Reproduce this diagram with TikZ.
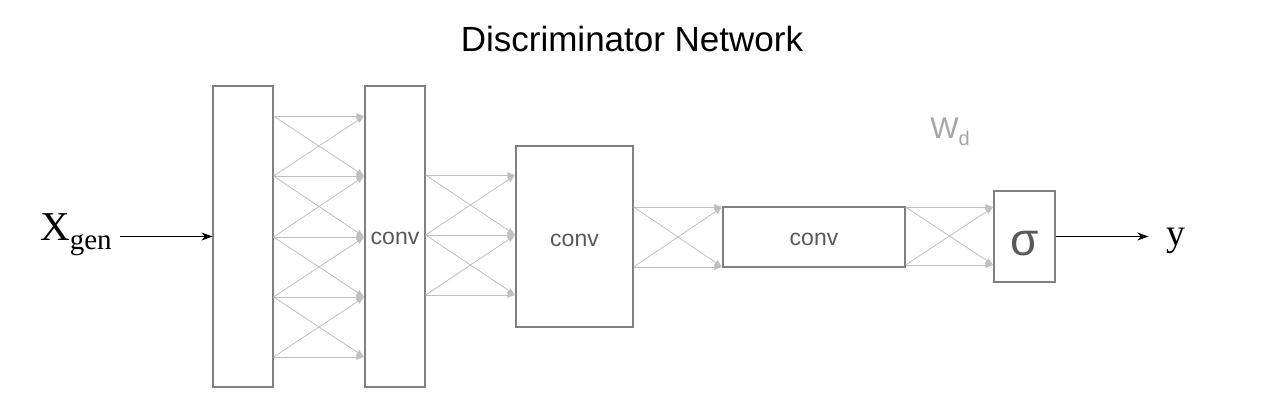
\documentclass[tikz,border=0pt]{standalone}
\usepackage{fontspec}
\setmainfont{Liberation Serif}
\newfontfamily\labelfont{Liberation Sans}
\usetikzlibrary{positioning, arrows.meta, calc}

\begin{document}
\begin{tikzpicture}[x=1pt, y=-1pt,
  layer/.style={draw=black!50, line width=1.1pt, fill=white, inner sep=0pt,
                text=black!65, font=\labelfont\fontsize{23}{26}\selectfont,
                text depth=0pt, text height=16pt},
  link/.style={draw=black!25, line width=0.8pt, -{Latex[length=8pt,width=6pt]}},
  io/.style={line width=1.1pt, -{Stealth[length=11pt,width=8pt]}}]
  \useasboundingbox (0,0) rectangle (1263,408);
  % titolo e pesi
  \node[font=\labelfont\fontsize{35}{40}\selectfont] (title) at (632,39) {Discriminator Network};
  \node[text=black!35, font=\labelfont\fontsize{30}{32}\selectfont] (wd) at (950,132)
       {W\raisebox{-7pt}{\fontsize{20}{20}\selectfont d}};
  % strati della rete
  \node[layer, minimum width=60, minimum height=301] (l0) at (243,236.5) {};
  \node[layer, minimum width=60, minimum height=301] (l1) at (395,236.5) {conv};
  \node[layer, minimum width=117, minimum height=181, text height=20pt] (l2) at (574.5,236.5) {conv};
  \node[layer, minimum width=182, minimum height=60] (l3) at (814,237) {conv};
  \node[layer, minimum width=61, minimum height=91, text height=38pt,
        font=\labelfont\fontsize{46}{50}\selectfont] (l4) at (1024.5,236.5) {σ};
  % ingresso e uscita
  \node[font=\fontsize{41}{44}\selectfont, inner sep=2pt] (xin) at (76,235)
       {X\raisebox{-9pt}{\fontsize{29}{30}\selectfont gen}};
  \node[font=\fontsize{38}{40}\selectfont, inner sep=2pt] (yout) at (1176,241) {y};
  \draw[io, shorten <=6pt] (xin.east |- l0.west) -- (l0.west);
  \draw[io, shorten >=16pt] (l4.east) -- (yout.west |- l4.east);
  % connessioni l0 -> l1
  \foreach \i/\y in {1/116, 2/176, 3/237, 4/297, 5/357}{
    \coordinate (l0o\i) at (l0.east |- 0,\y);
    \coordinate (l1i\i) at (l1.west |- 0,\y);
    \draw[link] (l0o\i) -- (l1i\i);
  }
  \foreach \i/\j in {1/2, 2/3, 3/4, 4/5}{
    \draw[link] (l0o\i) -- (l1i\j);
    \draw[link] (l0o\j) -- (l1i\i);
  }
  % connessioni l1 -> l2
  \foreach \i/\y in {1/175, 2/235, 3/295}{
    \coordinate (l1o\i) at (l1.east |- 0,\y);
    \coordinate (l2i\i) at (l2.west |- 0,\y);
    \draw[link] (l1o\i) -- (l2i\i);
  }
  \foreach \i/\j in {1/2, 2/3}{
    \draw[link] (l1o\i) -- (l2i\j);
    \draw[link] (l1o\j) -- (l2i\i);
  }
  % connessioni l2 -> l3 e l3 -> l4
  \foreach \i/\y in {1/207, 2/267}{
    \coordinate (l2o\i) at (l2.east |- 0,\y);
    \coordinate (l3i\i) at (l3.west |- 0,\y);
    \draw[link] (l2o\i) -- (l3i\i);
  }
  \foreach \i/\y in {1/207, 2/265}{
    \coordinate (l3o\i) at (l3.east |- 0,\y);
    \coordinate (l4i\i) at (l4.west |- 0,\y);
    \draw[link] (l3o\i) -- (l4i\i);
  }
  \draw[link] (l2o1) -- (l3i2);
  \draw[link] (l2o2) -- (l3i1);
  \draw[link] (l3o1) -- (l4i2);
  \draw[link] (l3o2) -- (l4i1);
\end{tikzpicture}
\end{document}
